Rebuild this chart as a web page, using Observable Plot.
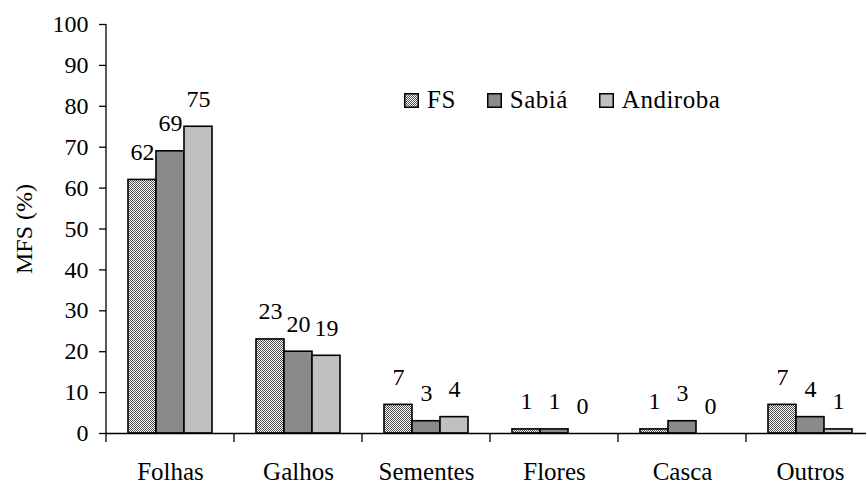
<!DOCTYPE html>
<html><head><meta charset="utf-8">
<script src="https://cdn.jsdelivr.net/npm/d3@7"></script>
<script src="https://cdn.jsdelivr.net/npm/@observablehq/plot@0.6"></script>
<style>
html,body{margin:0;padding:0;background:#fff;overflow:hidden;width:866px;height:484px}
#wrap{position:relative;width:874px;height:484px}
#legend{position:absolute;left:404px;top:86px;display:flex;align-items:center;font-family:"Liberation Serif",serif;font-size:25px;color:#000;line-height:28px}
.item{display:flex;align-items:center;margin-right:31px}
.item svg{margin-right:8px;display:block}
.item span{letter-spacing:0.5px}
</style></head><body><div id="wrap"><div id="chart"></div><div id="legend"></div></div>
<script>
const categories = ["Folhas", "Galhos", "Sementes", "Flores", "Casca", "Outros"];
const seriesNames = ["FS", "Sabiá", "Andiroba"];
const fsValues = [62, 23, 7, 1, 1, 7];
const sabiaValues = [69, 20, 3, 1, 3, 4];
const andirobaValues = [75, 19, 4, 0, 0, 1];
const yTicks = [0, 10, 20, 30, 40, 50, 60, 70, 80, 90, 100];
const seriesFills = ["url(#fsPattern)", "#8a8a8a", "#c0c0c0"];

const valuesBySeries = [fsValues, sabiaValues, andirobaValues];
const data = categories.flatMap((c, i) =>
  seriesNames.map((s, j) => ({category: c, series: s, value: valuesBySeries[j][i]})));

const font = "Liberation Serif";
const chart = Plot.plot({
  width: 874, height: 484,
  marginLeft: 106, marginRight: 0, marginTop: 24, marginBottom: 51,
  style: {fontFamily: font, fontSize: "24px", color: "#000", background: "#fff"},
  fx: {domain: categories, padding: 0, label: null},
  x: {domain: seriesNames, paddingInner: 0, paddingOuter: 0.73, axis: null},
  y: {domain: [0, 100], axis: null},
  color: {domain: seriesNames, range: seriesFills},
  marks: [
    Plot.axisY({ticks: yTicks, tickSize: 7, tickPadding: 11, label: "MFS (%)", labelArrow: "none", labelAnchor: "center", labelOffset: 92, fontSize: 24, strokeWidth: 1.3}),
    Plot.axisFx({anchor: "bottom", tickSize: 0, tickPadding: 29, label: null, fontSize: 25}),
    Plot.barY(data.filter(d => d.value > 0), {fx: "category", x: "series", y: "value", fill: "series", stroke: "#000", strokeWidth: 1.6}),
    Plot.ruleY([0], {stroke: "#000", strokeWidth: 1.3}),
    Plot.text(data, {fx: "category", x: "series", y: "value", text: d => String(d.value), lineAnchor: "bottom", dy: -20, fontSize: 24})
  ]
});

const svg = d3.select(chart);
const defs = svg.insert("defs", ":first-child");
const pat = defs.append("pattern").attr("id", "fsPattern").attr("patternUnits", "userSpaceOnUse").attr("width", 2).attr("height", 2);
pat.append("rect").attr("width", 2).attr("height", 2).attr("fill", "#fff");
pat.append("rect").attr("x", 0).attr("y", 0).attr("width", 1).attr("height", 1).attr("fill", "#505050");
pat.append("rect").attr("x", 1).attr("y", 1).attr("width", 1).attr("height", 1).attr("fill", "#505050");

// axis line and category boundary ticks, from Plot's scales
const fxS = chart.scale("fx"), yS = chart.scale("y");
const x0 = fxS.range[0];
const yBottom = yS.range[0], yTop = yS.range[1];
const g = svg.append("g").attr("stroke", "#000").attr("stroke-width", 1.3);
g.append("line").attr("x1", x0).attr("x2", x0).attr("y1", yTop).attr("y2", yBottom);
d3.range(categories.length + 1).forEach(i => {
  const x = x0 + i * fxS.step;
  g.append("line").attr("x1", x).attr("x2", x).attr("y1", yBottom).attr("y2", yBottom + 9);
});

document.getElementById("chart").appendChild(chart);

const legend = d3.select("#legend");
seriesNames.forEach((s, j) => {
  const item = legend.append("div").attr("class", "item");
  const sw = item.append("svg").attr("width", 15).attr("height", 15);
  sw.append("rect").attr("x", 0.75).attr("y", 0.75).attr("width", 13.5).attr("height", 13.5)
    .attr("fill", seriesFills[j]).attr("stroke", "#000").attr("stroke-width", 1.5);
  item.append("span").text(s);
});
</script></body></html>
